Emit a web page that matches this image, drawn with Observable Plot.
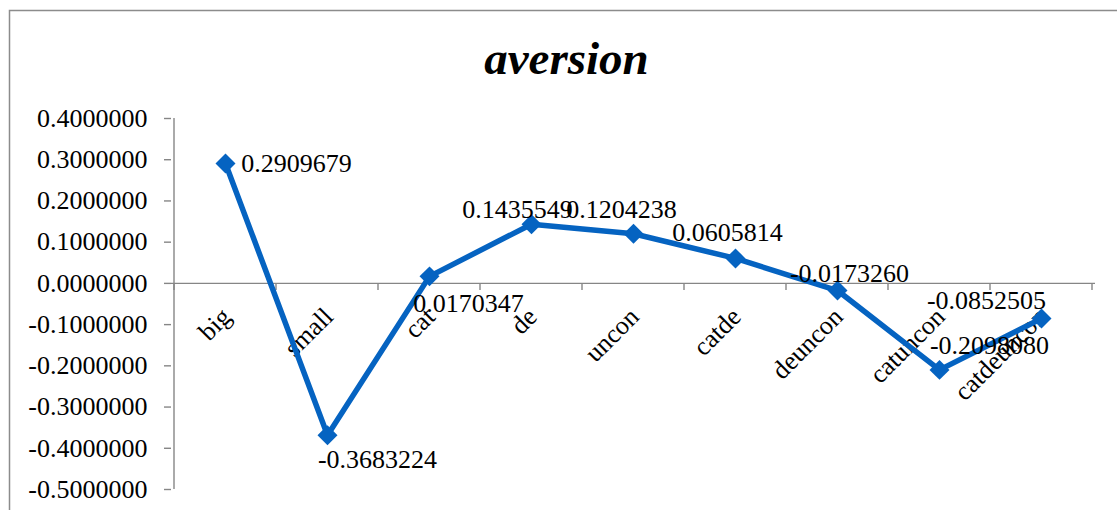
<!DOCTYPE html>
<html>
<head>
<meta charset="utf-8">
<script src="https://cdn.jsdelivr.net/npm/d3@7"></script>
<script src="https://cdn.jsdelivr.net/npm/@observablehq/plot@0.6"></script>
<style>
  html, body { margin: 0; padding: 0; background: #fff; overflow: hidden; }
  #chart svg { display: block; }
</style>
</head>
<body>
<div id="chart"></div>
<script>
// Series and axis data
const title = "aversion";
const categories = ["big", "small", "cat", "de", "uncon", "catde", "deuncon", "catuncon", "catdeuncon"];
const values = [0.2909679, -0.3683224, 0.0170347, 0.1435549, 0.1204238, 0.0605814, -0.0173260, -0.2098080, -0.0852505];
const yTicks = [-0.5, -0.4, -0.3, -0.2, -0.1, 0, 0.1, 0.2, 0.3, 0.4];

// Pixel nudges [dx, dy] for each value label (label placement only)
const labelNudge = [[71, 9], [50, 33], [39, 36], [-14, -6], [-12, -16], [-8, -17], [12, -9], [50, -16], [-55, -10]];

const rows = categories.map((c, i) => ({category: c, value: values[i]}));

const W = 1117, H = 510;
const font = "'Liberation Serif', 'Times New Roman', serif";
const blue = "#0563C1";
const gray = "#868686";
const fmt = d => d.toFixed(7);

const chart = Plot.plot({
  width: W,
  height: H,
  marginLeft: 171,
  marginRight: 22,
  marginTop: 118,
  marginBottom: 21,
  style: {fontFamily: font, fontSize: "26px", color: "#000", background: "#fff", overflow: "hidden"},
  x: {type: "point", domain: categories, padding: 0.5, axis: null},
  y: {domain: [-0.5, 0.4]},
  marks: [
    Plot.axisY({ticks: yTicks, tickFormat: fmt, tickSize: 7, tickPadding: 17, stroke: gray, strokeWidth: 1.4, fontSize: 26, label: null}),
    Plot.ruleY([0], {stroke: gray, strokeWidth: 1.4}),
    Plot.text(rows, {
      x: "category", y: () => 0, text: "category",
      rotate: -45, textAnchor: "end", lineAnchor: "bottom",
      dx: 7, dy: 35, fontSize: 26, fill: "#000"
    }),
    Plot.line(rows, {x: "category", y: "value", stroke: blue, strokeWidth: 5.5, strokeLinejoin: "round"}),
    Plot.dot(rows, {x: "category", y: "value", symbol: "diamond2", r: 9, fill: blue, stroke: "none"}),
    ...rows.map((r, i) => Plot.text([r], {
      x: "category", y: "value", text: d => fmt(d.value),
      textAnchor: "middle", lineAnchor: "bottom",
      dx: labelNudge[i][0], dy: labelNudge[i][1], fontSize: 26, fill: "#000"
    })),
    Plot.text([title], {
      frameAnchor: "top", dx: -67, dy: -45, lineAnchor: "bottom",
      fontSize: 47, fontWeight: "bold", fontStyle: "italic", fill: "#000"
    })
  ]
});

// Axis lines and category boundary ticks, placed from the chart's own scales
const svg = d3.select(chart);
const xs = chart.scale("x"), ys = chart.scale("y");
const step = xs.apply(categories[1]) - xs.apply(categories[0]);
const x0 = xs.apply(categories[0]) - step / 2;
const yZero = ys.apply(0);
const axisG = svg.insert("g", "g").attr("stroke", gray).attr("stroke-width", 1.4).attr("fill", "none");
axisG.append("line")
  .attr("x1", x0).attr("x2", x0)
  .attr("y1", ys.apply(yTicks[0])).attr("y2", ys.apply(yTicks[yTicks.length - 1]));
for (let k = 0; k <= categories.length; k++) {
  const bx = x0 + k * step;
  axisG.append("line").attr("x1", bx).attr("x2", bx).attr("y1", yZero).attr("y2", yZero + 7);
}

// Outer chart-area border
svg.append("rect")
  .attr("x", 9.5).attr("y", 10.5)
  .attr("width", W + 20).attr("height", H + 20)
  .attr("fill", "none").attr("stroke", "#8c8c8c").attr("stroke-width", 1.5);

document.getElementById("chart").append(chart);
</script>
</body>
</html>
